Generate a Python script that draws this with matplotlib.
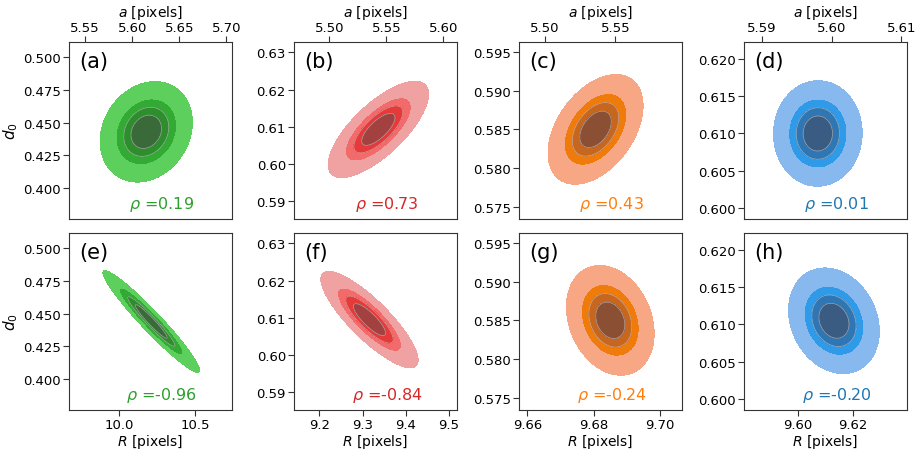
import numpy as np
import matplotlib.pyplot as plt
from matplotlib.ticker import MultipleLocator

# panel letters, top row (a-d) vs a, bottom row (e-h) vs R
labels = ['a', 'b', 'c', 'd', 'e', 'f', 'g', 'h']
mean_x = [5.615, 5.543, 5.536, 5.598, 10.21, 9.316, 9.685, 9.613]
mean_y = [0.443, 0.6093, 0.585, 0.610, 0.444, 0.6095, 0.585, 0.6105]
sig_x = [0.020, 0.018, 0.0137, 0.0026, 0.13, 0.046, 0.0054, 0.0067]
sig_y = [0.0157, 0.0053, 0.0029, 0.0029, 0.0159, 0.0053, 0.0029, 0.0029]
rho = [0.19, 0.73, 0.43, 0.01, -0.96, -0.84, -0.24, -0.20]

xlims = [(5.533, 5.706), (5.469, 5.612), (5.482, 5.597), (5.5874, 5.6108),
         (9.669, 10.741), (9.1414, 9.5185), (9.6575, 9.7066), (9.5805, 9.6394)]
ylims = [(0.3763, 0.5117), (0.5852, 0.6328), (0.5734, 0.5963), (0.5985, 0.6223)]
xsteps = [0.05, 0.05, 0.05, 0.01, 0.5, 0.1, 0.02, 0.02]
ysteps = [0.025, 0.01, 0.005, 0.005]

text_cols = ['#2ca02c', '#d62728', '#ff7f0e', '#1f77b4']
fills = [['#5ccf5c', '#33aa33', '#2e8e2e', '#3a6a3a'],
         ['#f0a2a2', '#f26a6a', '#e63a3a', '#a34040'],
         ['#f7a783', '#ef7b0a', '#c7661e', '#8b4f33'],
         ['#88b9ee', '#2f9be8', '#2f77b4', '#3b5c82']]
levels = [0.05, 0.30, 0.49, 0.72, 1.01]

fig = plt.figure(figsize=(9.2, 4.52), dpi=100)
lefts = [69 / 920, 294 / 920, 519 / 920, 744 / 920]
bottoms = [1 - 220 / 452, 1 - 411 / 452]
w = 163 / 920
h = 177 / 452

for i in range(8):
    row = i // 4
    col = i % 4
    ax = fig.add_axes([lefts[col], bottoms[row], w, h])
    x0, x1 = xlims[i]
    y0, y1 = ylims[col]
    xx, yy = np.meshgrid(np.linspace(x0, x1, 300), np.linspace(y0, y1, 300))
    u = (xx - mean_x[i]) / sig_x[i]
    v = (yy - mean_y[i]) / sig_y[i]
    r = rho[i]
    q = (u * u - 2 * r * u * v + v * v) / (1 - r * r)
    dens = np.exp(-0.5 * q)
    ax.contourf(xx, yy, dens, levels=levels, colors=fills[col])
    ax.contour(xx, yy, dens, levels=levels[2:4], colors='#c8c8c8',
               linewidths=0.5, alpha=0.7)
    ax.set_xlim(x0, x1)
    ax.set_ylim(y0, y1)
    ax.xaxis.set_major_locator(MultipleLocator(xsteps[i]))
    ax.yaxis.set_major_locator(MultipleLocator(ysteps[col]))
    ax.tick_params(labelsize=9.5, length=4.3, pad=1.5, color='#333333')
    ax.text(0.06, 0.89, '(' + labels[i] + ')', transform=ax.transAxes,
            fontsize=15, va='center', ha='left')
    ax.text(0.57, 0.09, r'$\rho$ =%.2f' % rho[i], transform=ax.transAxes,
            fontsize=11.5, color=text_cols[col], va='center', ha='center')
    if row == 0:
        ax.xaxis.tick_top()
        ax.xaxis.set_label_position('top')
        ax.set_xlabel('$a$ [pixels]', fontsize=10)
        ax.xaxis.set_label_coords(0.5, 1.145)
    else:
        ax.set_xlabel('$R$ [pixels]', fontsize=10)
        ax.xaxis.set_label_coords(0.5, -0.125)
    if col == 0:
        ax.set_ylabel('$d_0$', fontsize=11)
        ax.yaxis.set_label_coords(-0.30, 0.5)
    for s in ax.spines.values():
        s.set_color('#333333')

fig.savefig('out.png', dpi=100)
